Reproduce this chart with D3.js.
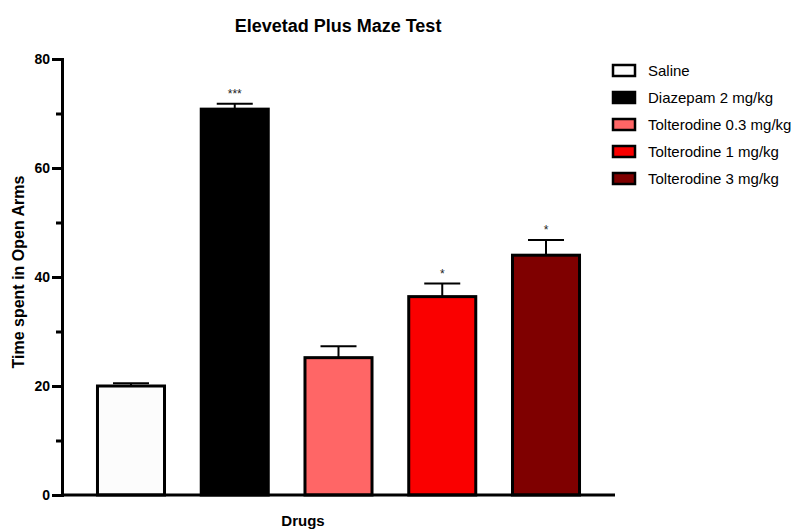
<!DOCTYPE html>
<html>
<head>
<meta charset="utf-8">
<script src="https://cdn.jsdelivr.net/npm/d3@7"></script>
<style>
  body { margin: 0; background: #fff; }
  svg { font-family: "Liberation Sans", Arial, sans-serif; }
</style>
</head>
<body>
<svg id="chart" width="798" height="530"></svg>
<script>
// values
var groups = ['Saline', 'Diazepam 2 mg/kg', 'Tolterodine 0.3 mg/kg', 'Tolterodine 1 mg/kg', 'Tolterodine 3 mg/kg'];
var means = [20.0, 70.8, 25.2, 36.4, 44.0];
var sems = [0.5, 1.0, 2.1, 2.4, 2.8];
var stars = ['', '***', '', '*', '*'];
var colors = ['#fcfcfc', '#000000', '#ff6666', '#fa0000', '#7f0000'];
var majorTicks = [0, 20, 40, 60, 80];
var minorTicks = [10, 30, 50, 70];

var svg = d3.select('svg#chart');

var x = d3.scaleBand()
    .domain(groups)
    .range([62, 615])
    .paddingInner(0.354)
    .paddingOuter(0.342);

var y = d3.scaleLinear()
    .domain([0, 80])
    .range([495, 59]);

// title
svg.append('text')
    .attr('x', 338).attr('y', 32)
    .attr('text-anchor', 'middle')
    .style('font-size', '18px').style('font-weight', 'bold')
    .text('Elevetad Plus Maze Test');

// bars
svg.append('g').selectAll('rect')
    .data(groups)
    .enter().append('rect')
    .attr('x', function (d) { return x(d); })
    .attr('y', function (d, i) { return y(means[i]); })
    .attr('width', x.bandwidth())
    .attr('height', function (d, i) { return y(0) - y(means[i]); })
    .attr('fill', function (d, i) { return colors[i]; })
    .attr('stroke', '#000')
    .attr('stroke-width', 3);

// error bars (upper only)
var err = svg.append('g').attr('stroke', '#000').attr('stroke-width', 2);
groups.forEach(function (g, i) {
    var cx = x(g) + x.bandwidth() / 2;
    err.append('line')
        .attr('x1', cx).attr('x2', cx)
        .attr('y1', y(means[i])).attr('y2', y(means[i] + sems[i]));
    err.append('line')
        .attr('x1', cx - 18).attr('x2', cx + 18)
        .attr('y1', y(means[i] + sems[i])).attr('y2', y(means[i] + sems[i]));
    if (stars[i]) {
        svg.append('text')
            .attr('x', cx).attr('y', y(means[i] + sems[i]) - 6)
            .attr('text-anchor', 'middle')
            .style('font-size', '12px').style('fill', '#222')
            .text(stars[i]);
    }
});

// y axis
var yAxis = svg.append('g')
    .attr('transform', 'translate(62,0)')
    .call(d3.axisLeft(y).tickValues(majorTicks).tickSize(10).tickPadding(2));
yAxis.select('.domain').attr('stroke-width', 3);
yAxis.selectAll('.tick line').attr('stroke-width', 3);
yAxis.selectAll('.tick text')
    .style('font-size', '14px').style('font-weight', 'bold')
    .style('font-family', '"Liberation Sans", Arial, sans-serif')
    .attr('fill', '#000');

var yMinor = svg.append('g')
    .attr('transform', 'translate(62,0)')
    .call(d3.axisLeft(y).tickValues(minorTicks).tickSize(6).tickFormat(''));
yMinor.select('.domain').remove();
yMinor.selectAll('.tick line').attr('stroke-width', 3);

// x axis line
svg.append('line')
    .attr('x1', 61).attr('x2', 615)
    .attr('y1', y(0)).attr('y2', y(0))
    .attr('stroke', '#000').attr('stroke-width', 3);

// axis titles
svg.append('text')
    .attr('transform', 'translate(24,272) rotate(-90)')
    .attr('text-anchor', 'middle')
    .style('font-size', '16px').style('font-weight', 'bold')
    .text('Time spent in Open Arms');

svg.append('text')
    .attr('x', 303).attr('y', 526)
    .attr('text-anchor', 'middle')
    .style('font-size', '15px').style('font-weight', 'bold')
    .text('Drugs');

// legend
var legend = svg.append('g').selectAll('g')
    .data(groups)
    .enter().append('g')
    .attr('transform', function (d, i) { return 'translate(613,' + (65 + i * 27) + ')'; });

legend.append('rect')
    .attr('width', 22).attr('height', 11)
    .attr('fill', function (d, i) { return colors[i]; })
    .attr('stroke', '#000').attr('stroke-width', 2.5);

legend.append('text')
    .attr('x', 35).attr('y', 10.5)
    .style('font-size', '15px')
    .text(function (d) { return d; });
</script>
</body>
</html>
